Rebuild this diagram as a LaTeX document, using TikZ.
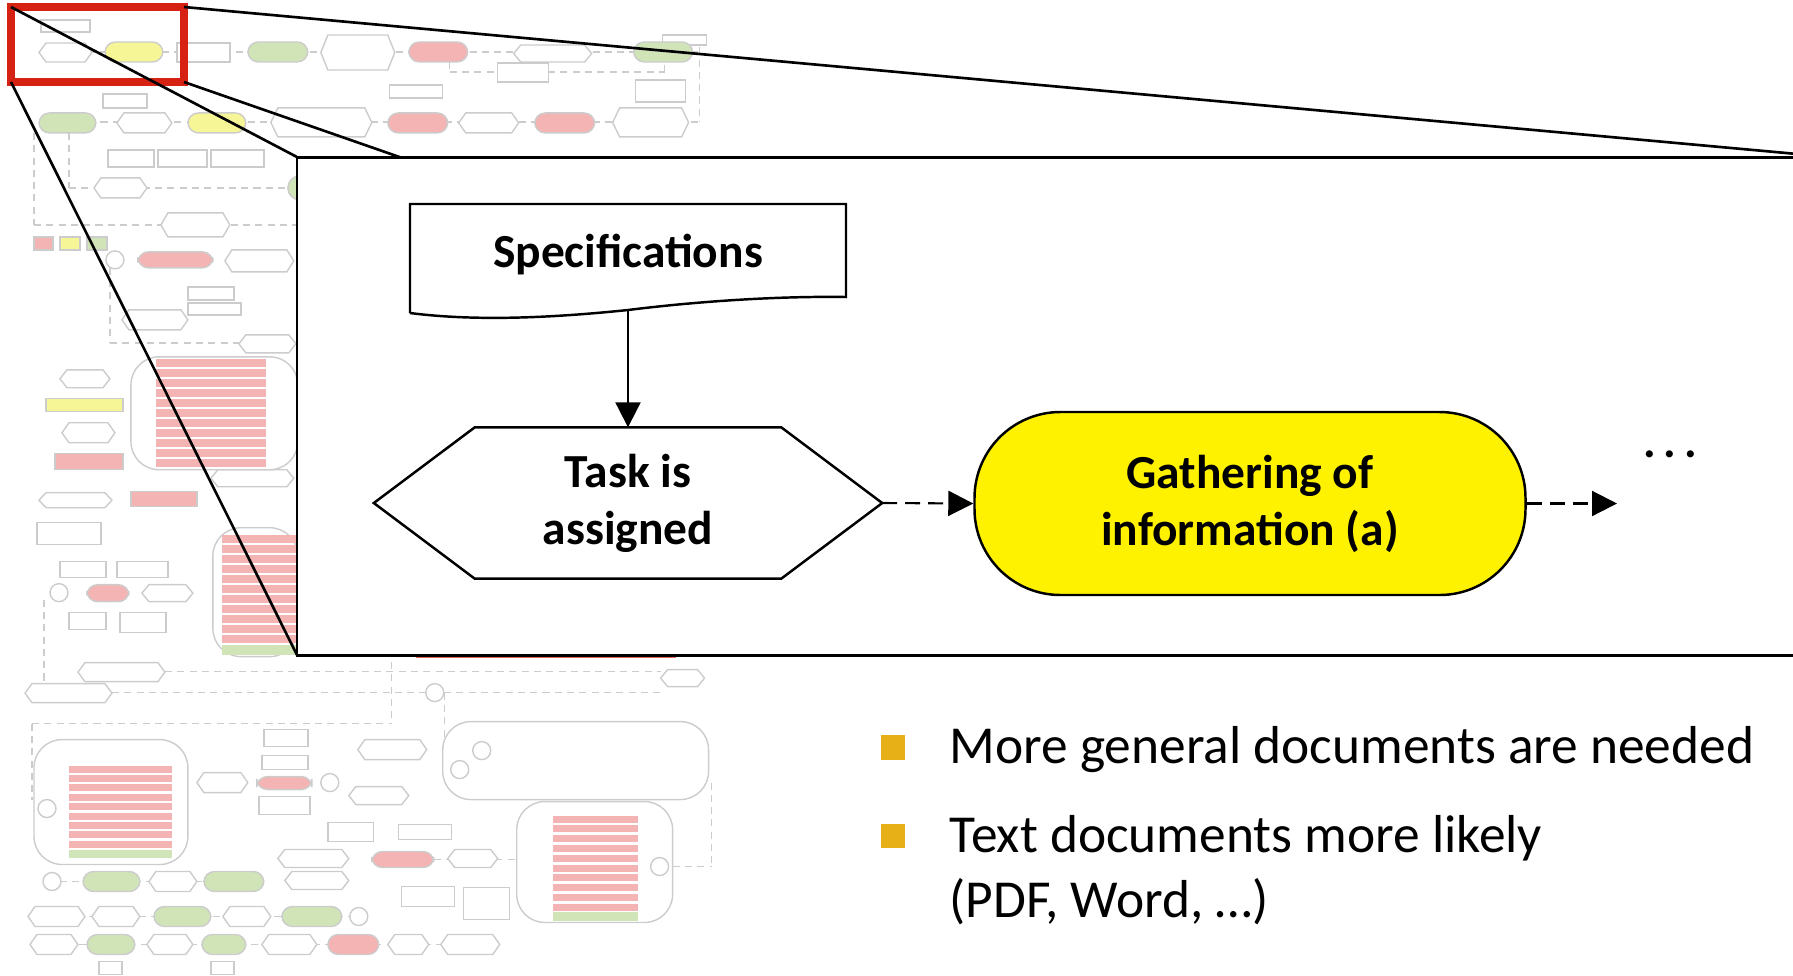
\documentclass[tikz,border=0pt]{standalone}
\usepackage{fontspec}
\setmainfont{Carlito}
\usetikzlibrary{arrows.meta,positioning}

\definecolor{zoomred}{RGB}{214,34,18}
\definecolor{bulletgold}{RGB}{230,176,22}
\definecolor{bgred}{RGB}{245,180,180}
\definecolor{bggreen}{RGB}{208,228,184}
\definecolor{bgyellow}{RGB}{246,246,150}

\tikzset{
  bgshape/.style={draw=black!20, line width=0.4pt, fill=white},
  bgflow/.style={draw=black!20, line width=0.4pt, dash pattern=on 2pt off 1.5pt},
  flowline/.style={line width=0.6pt, -{Triangle[length=0.25cm,width=0.25cm]}},
  dashflow/.style={flowline, dash pattern=on 0.15cm off 0.08cm},
  boldtext/.style={font=\fontsize{13.5}{16.2}\selectfont\bfseries},
  listtext/.style={font=\fontsize{15.2}{18.5}\selectfont, inner sep=0pt},
  bulletsq/.style={fill=bulletgold, minimum size=0.245cm, inner sep=0pt}
}

\begin{document}
\begin{tikzpicture}
        \clip (0,0) rectangle (17.93,-9.75);

        % faded overview in the background
        \begin{scope}[x=0.01cm, y=-0.01cm]
          \foreach \xa/\ya/\xb/\yb in {39/52/700/52, 700/35/700/122, 39/122/700/122,
              450/62/450/72, 450/72/665/72, 665/72/665/62, 34/133/34/225, 34/225/297/225,
              69/133/69/188, 69/188/297/188, 110/268/110/343, 110/343/297/343,
              44/600/44/700, 165/672/661/672, 112/693/661/693, 32/724/392/724,
              392/650/392/724, 445/693/445/783, 32/724/32/800, 712/783/712/867,
              673/867/712/867, 434/860/517/860, 60/882/264/882, 28/917/367/917,
              30/945/500/945, 230/600/297/600}
            \draw[bgflow] (\xa,\ya) -- (\xb,\yb);

          % hexagons
          \foreach \a/\b/\t/\u in {39/92/43/62, 321/395/35/70, 514/592/45/62,
              117/172/113/133, 271/372/108/137, 459/519/113/133, 613/689/108/137,
              94/147/178/198, 161/230/213/237, 225/294/250/272, 122/188/310/330,
              239/296/335/353, 60/110/370/388, 62/115/423/443, 39/112/493/508,
              211/294/470/487, 142/193/585/602, 78/165/663/682, 25/112/684/703,
              661/705/670/687, 358/427/740/760, 349/409/787/805, 197/248/773/793,
              278/349/850/868, 285/349/872/890, 448/498/850/868, 567/627/743/758,
              567/627/778/795, 638/707/772/790, 149/197/872/892, 28/85/907/927,
              92/140/907/927, 223/271/907/927, 30/78/935/955, 147/193/935/955,
              262/317/935/955, 388/429/935/955, 441/500/935/955}
            \draw[bgshape] (\a,{(\t+\u)/2}) -- ({\a+7},\t) -- ({\b-7},\t) -- (\b,{(\t+\u)/2})
              -- ({\b-7},\u) -- ({\a+7},\u) -- cycle;

          % boxes
          \foreach \a/\t/\b/\u in {41/20/90/32, 177/43/230/62, 663/35/707/45, 498/63/549/82,
              390/85/443/98, 636/80/686/102, 103/94/147/108, 108/150/154/167,
              158/150/207/167, 211/150/264/167, 188/287/234/300, 188/303/241/315,
              37/523/101/545, 60/562/106/578, 117/562/168/578, 69/613/106/630,
              120/613/166/633, 264/730/308/747, 262/756/308/770, 259/797/310/815,
              328/823/374/842, 399/825/452/840, 402/887/455/907, 464/888/510/920,
              99/962/122/975, 211/962/234/975}
            \draw[bgshape] (\a,\t) rectangle (\b,\u);

          % coloured steps
          \foreach \a/\t/\b/\u/\c in {105/42/163/62/bgyellow, 248/42/308/62/bggreen,
              409/42/468/62/bgred, 634/42/693/62/bggreen, 39/113/96/133/bggreen,
              188/113/246/133/bgyellow, 388/113/448/133/bgred, 535/113/595/133/bgred,
              138/252/213/268/bgred, 87/585/129/602/bgred, 500/737/553/750/bgred,
              500/755/553/768/bgyellow, 500/781/553/793/bgred, 640/744/705/758/bgred,
              257/777/312/790/bgred, 372/852/434/868/bgred, 83/872/140/892/bggreen,
              204/872/264/892/bggreen, 154/907/211/927/bggreen, 282/907/342/927/bggreen,
              87/935/135/955/bggreen, 202/935/246/955/bggreen, 328/935/379/955/bgred}
            \draw[bgshape, fill=\c, rounded corners=3pt] (\a,\t) rectangle (\b,\u);
          \foreach \a/\t/\b/\u/\c in {34/237/53/250/bgred, 60/237/80/250/bgyellow,
              87/237/107/250/bggreen, 46/399/123/412/bgyellow, 55/454/123/470/bgred,
              131/492/197/507/bgred}
            \draw[bgshape, fill=\c] (\a,\t) rectangle (\b,\u);

          % grouped blocks
          \draw[bgshape, rounded corners=8pt] (131,357) rectangle (298,470);
          \foreach \k in {0,...,10}
            \fill[bgred] (156,{359+\k*10}) rectangle (266,{367+\k*10});
          \draw[bgshape, rounded corners=8pt] (213,528) rectangle (298,657);
          \foreach \k in {0,...,10}
            \fill[bgred] (222,{535+\k*10}) rectangle (298,{543+\k*10});
          \fill[bggreen] (222,645) rectangle (298,655);
          \draw[zoomred!70, line width=0.8pt] (418,560) rectangle (675,657);
          \draw[bgshape, rounded corners=8pt] (34,740) rectangle (188,865);
          \foreach \k in {0,...,8}
            \fill[bgred] (69,{766+\k*9.4}) rectangle (172,{773+\k*9.4});
          \fill[bggreen] (69,850) rectangle (172,858);
          \draw[bgshape, rounded corners=8pt] (443,722) rectangle (709,800);
          \draw[bgshape, rounded corners=8pt] (517,802) rectangle (673,923);
          \foreach \k in {0,...,9}
            \fill[bgred] (553,{816+\k*9.8}) rectangle (638,{823+\k*9.8});
          \fill[bggreen] (553,913) rectangle (638,922);

          % junctions
          \foreach \x/\y in {47/809, 482/751, 460/770, 660/867, 330/783, 52/882,
              359/917, 435/693, 59/593, 115/260}
            \draw[bgshape] (\x,\y) circle[radius=0.09cm];
          \draw[bgshape, fill=bggreen] (300,188) circle[radius=0.12cm];
        \end{scope}

        % zoom frame and its rays
        \draw[zoomred, line width=2.3pt] (0.11,-0.07) rectangle (1.84,-0.82);
        \draw[line width=0.75pt] (0.11,-0.07) -- (2.97,-1.57);
        \draw[line width=0.75pt] (0.11,-0.82) -- (2.97,-6.55);
        \draw[line width=0.75pt] (1.84,-0.07) -- (18.3,-1.57);
        \draw[line width=0.75pt] (1.84,-0.82) -- (18.3,-6.55);
        \draw[line width=0.85pt, fill=white] (2.97,-1.57) rectangle (18.3,-6.55);

        % enlarged part of the process
        \node[boldtext] (spec) at (6.28,-2.55) {Specifications};
        \draw[line width=0.7pt] (4.10,-3.13) -- (4.10,-2.04) -- (8.46,-2.04) -- (8.46,-2.97)
          .. controls (7.8,-2.96) and (7.0,-3.01) .. (6.28,-3.10)
          .. controls (5.6,-3.17) and (4.8,-3.22) .. (4.10,-3.13);
        \coordinate (specb) at (6.28,-3.10);

        \node[boldtext, minimum width=5.07cm, minimum height=1.50cm, align=center, inner sep=0pt]
          (task) at (6.28,-5.03) {Task is\\assigned};
        \draw[line width=0.7pt] (task.west) -- ([xshift=1.01cm]task.north west)
          -- ([xshift=-1.01cm]task.north east) -- (task.east)
          -- ([xshift=-1.01cm]task.south east) -- ([xshift=1.01cm]task.south west) -- cycle;

        \node[boldtext, draw, line width=0.7pt, fill=yellow, rounded corners=0.86cm,
          minimum width=5.51cm, minimum height=1.83cm, align=center]
          (gather) at (12.50,-5.035) {Gathering of\\information (a)};
        \coordinate (next) at (16.17,-5.035);
        \node[boldtext, anchor=base] (more) at (16.70,-4.57) {.\,.\,.};

        \draw[flowline] (specb) -- (task.north);
        \draw[dashflow] (task.east) -- (gather.west);
        \draw[dashflow] (gather.east) -- (next);

        % remarks
        \node[bulletsq] (dotA) at (8.93,-7.475) {};
        \node[listtext, anchor=base west] (itemA) at (9.49,-7.63) {More general documents are needed};
        \node[bulletsq] (dotB) at (8.93,-8.36) {};
        \node[listtext, anchor=base west, align=left] (itemB) at (9.49,-9.17)
          {Text documents more likely\\(PDF, Word, …)};

      \end{tikzpicture}
\end{document}
